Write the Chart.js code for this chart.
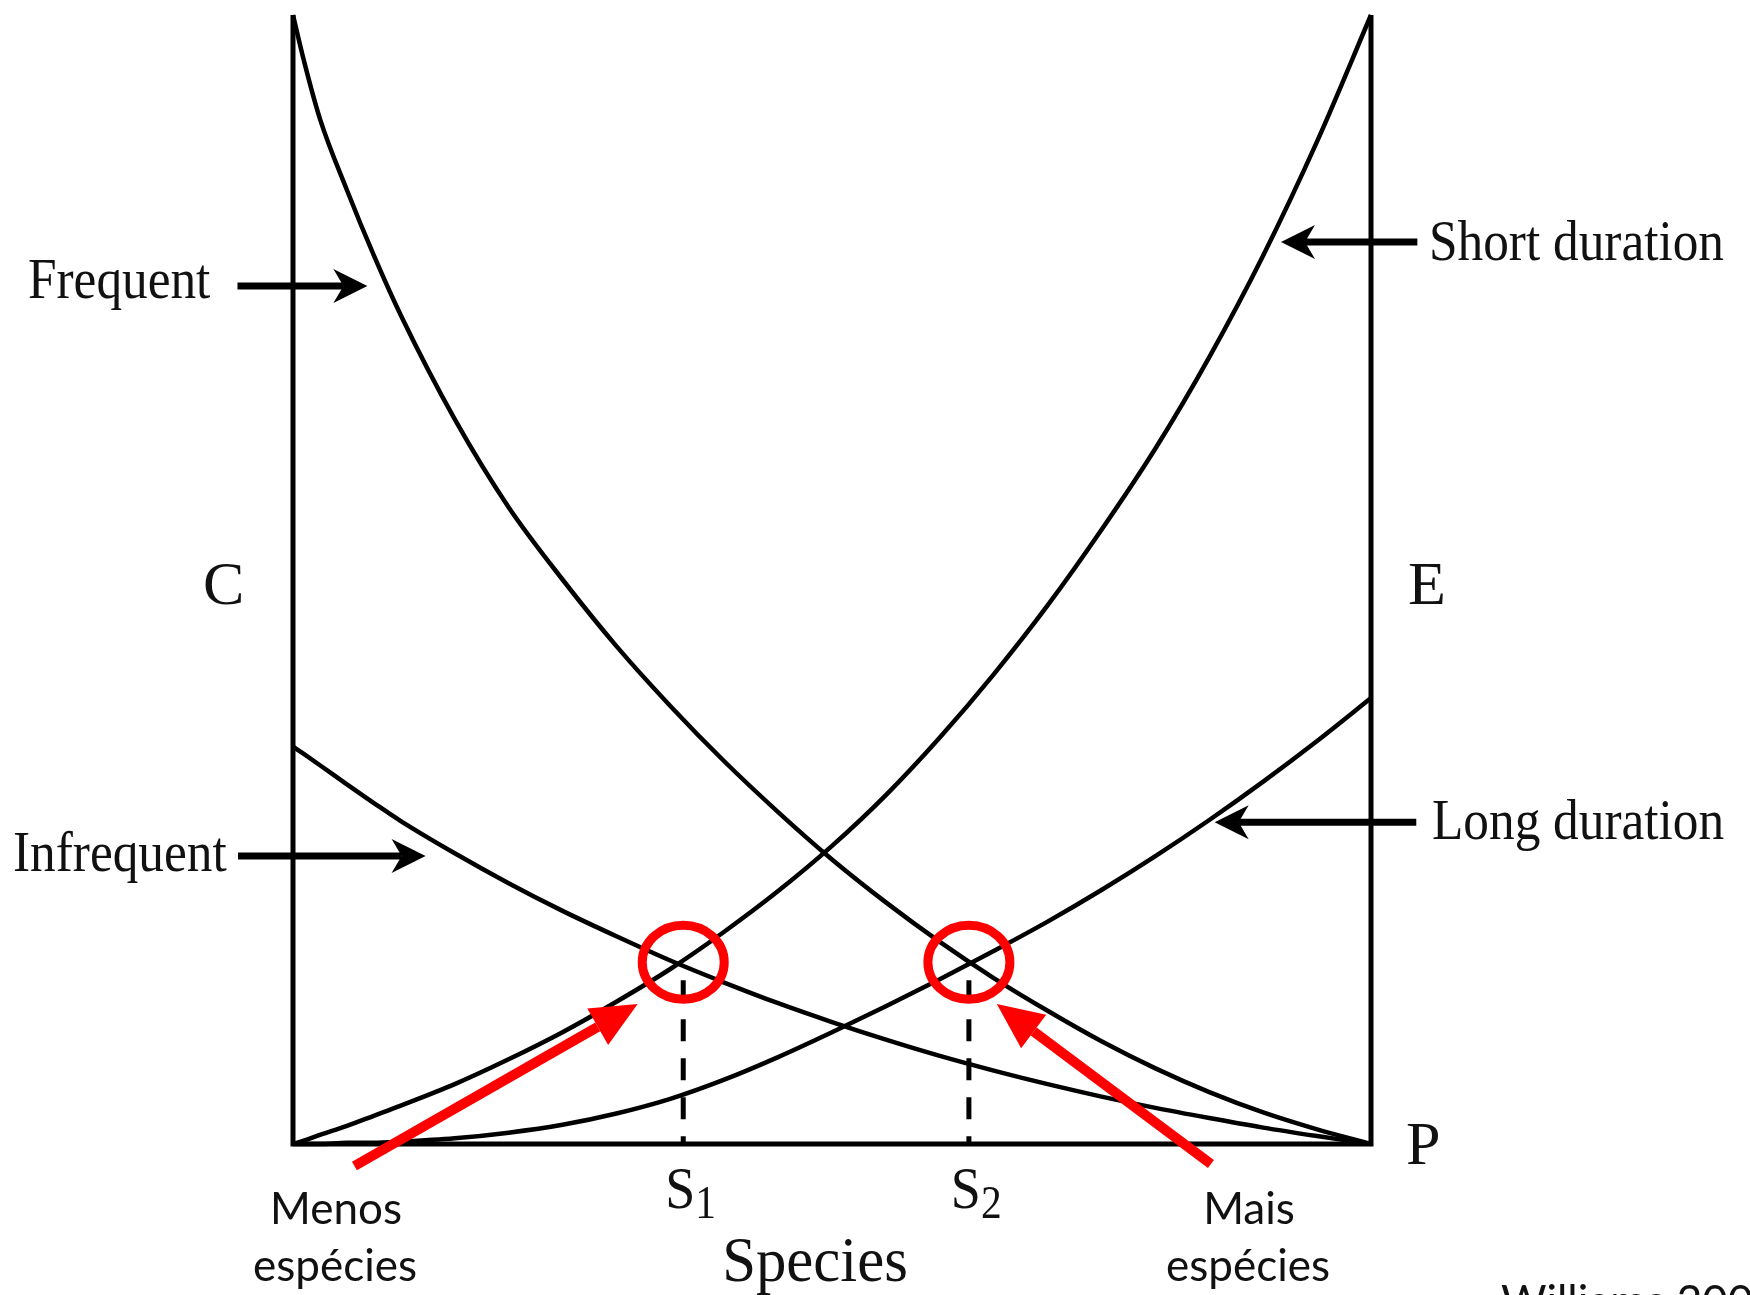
<!DOCTYPE html>
<html>
<head>
<meta charset="utf-8">
<script src="https://cdn.jsdelivr.net/npm/chart.js@4.4.0/dist/chart.umd.min.js"></script>
<style>
  body { margin: 0; background: #fff; }
  canvas { display: block; }
</style>
</head>
<body>
<canvas id="myChart" width="1750" height="1295"></canvas>
<script>
// values: position along the Species axis (0..1) and curve height (0..1)
const speciesPos = [0, 0.01, 0.025, 0.05, 0.075, 0.1, 0.15, 0.2, 0.25, 0.3, 0.35, 0.4, 0.45, 0.5, 0.55, 0.6, 0.65, 0.7, 0.75, 0.8, 0.85, 0.9, 0.95, 1];
const frequent   = [1, 0.960, 0.908, 0.845, 0.787, 0.734, 0.642, 0.564, 0.500, 0.441, 0.388, 0.339, 0.294, 0.252, 0.214, 0.179, 0.147, 0.118, 0.091, 0.067, 0.046, 0.028, 0.013, 0];
const infrequent = [0.352, 0.3455, 0.3355, 0.3185, 0.302, 0.286, 0.2575, 0.231, 0.2065, 0.184, 0.1625, 0.143, 0.1247, 0.108, 0.0924, 0.078, 0.065, 0.053, 0.042, 0.032, 0.023, 0.0145, 0.007, 0];
const shortDur   = [0, 0.003, 0.008, 0.016, 0.025, 0.034, 0.053, 0.075, 0.099, 0.126, 0.155, 0.188, 0.224, 0.264, 0.309, 0.360, 0.416, 0.477, 0.544, 0.616, 0.697, 0.787, 0.888, 1];
const longDur    = [0, 0, 0, 0.001, 0.001, 0.002, 0.005, 0.010, 0.017, 0.027, 0.040, 0.057, 0.077, 0.099, 0.122, 0.146, 0.171, 0.197, 0.225, 0.255, 0.287, 0.321, 0.357, 0.395];

// crossing points marked on the axis
const speciesMarks = [0.362, 0.627];
const markLabels = ['1', '2'];
const markTop = 0.145;
const crossY = 0.161;

function toPoints(ys) {
  return speciesPos.map((x, i) => ({ x: x, y: ys[i] }));
}

const curve = {
  showLine: true,
  borderColor: '#000',
  borderWidth: 4.5,
  pointRadius: 0,
  cubicInterpolationMode: 'monotone',
  clip: false
};

// arrows, circles and all the text
const notes = {
  id: 'notes',
  afterDatasetsDraw(chart) {
    const ctx = chart.ctx;
    const px = v => chart.scales.x.getPixelForValue(v);
    const py = v => chart.scales.y.getPixelForValue(v);

    function arrow(x1, y1, x2, y2, w, len, half, notch, color) {
      const a = Math.atan2(y2 - y1, x2 - x1);
      const c = Math.cos(a), s = Math.sin(a);
      ctx.save();
      ctx.strokeStyle = color;
      ctx.fillStyle = color;
      ctx.lineWidth = w;
      ctx.beginPath();
      ctx.moveTo(x1, y1);
      ctx.lineTo(x2 - c * (len - notch), y2 - s * (len - notch));
      ctx.stroke();
      ctx.beginPath();
      ctx.moveTo(x2, y2);
      ctx.lineTo(x2 - c * len - s * half, y2 - s * len + c * half);
      ctx.lineTo(x2 - c * (len - notch), y2 - s * (len - notch));
      ctx.lineTo(x2 - c * len + s * half, y2 - s * len - c * half);
      ctx.closePath();
      ctx.fill();
      ctx.restore();
    }

    function text(str, x, y, font, align, sx) {
      ctx.save();
      ctx.font = font;
      ctx.fillStyle = '#111';
      ctx.textBaseline = 'alphabetic';
      ctx.textAlign = align;
      ctx.translate(x, y);
      ctx.scale(sx, 1);
      ctx.fillText(str, 0, 0);
      ctx.restore();
    }

    // black pointer arrows
    arrow(px(-0.0515), py(0.760), px(0.069), py(0.760), 7, 34, 17, 10, '#000');
    arrow(px(-0.051), py(0.255), px(0.123), py(0.255), 7, 34, 17, 10, '#000');
    arrow(px(1.043), py(0.799), px(0.9165), py(0.799), 7, 34, 17, 10, '#000');
    arrow(px(1.042), py(0.285), px(0.855), py(0.285), 7, 34, 17, 10, '#000');

    // red circles on the crossings
    ctx.save();
    ctx.strokeStyle = '#ff0000';
    ctx.lineWidth = 9;
    speciesMarks.forEach(m => {
      ctx.beginPath();
      ctx.ellipse(px(m), py(crossY), 41, 37, 0, 0, Math.PI * 2);
      ctx.stroke();
    });
    ctx.restore();

    // red arrows
    arrow(px(0.057), py(-0.0195), px(0.3197), py(0.124), 10, 46, 21, 0, '#ff0000');
    arrow(px(0.8515), py(-0.0177), px(0.6529), py(0.124), 10, 46, 21, 0, '#ff0000');

    const serif = '"Liberation Serif", "Times New Roman", serif';
    const sans = 'Lato, "Open Sans", sans-serif';

    text('Frequent', 28, 298, '57px ' + serif, 'left', 0.9);
    text('Infrequent', 13, 871, '57px ' + serif, 'left', 0.9);
    text('Short duration', 1429, 260, '57px ' + serif, 'left', 0.9);
    text('Long duration', 1432, 839, '57px ' + serif, 'left', 0.9);
    text('C', 203, 604, '62px ' + serif, 'left', 1);
    text('E', 1408, 604, '62px ' + serif, 'left', 1);
    text('P', 1406, 1164, '62px ' + serif, 'left', 1);

    speciesMarks.forEach((m, i) => {
      const right = px(m) + 12;
      text('S', right, 1208, '60px ' + serif, 'right', 0.9);
      text(markLabels[i], right, 1218, '46px ' + serif, 'left', 0.9);
    });
    text('Species', 815, 1281, '64px ' + serif, 'center', 0.95);

    text('Menos', 336, 1224, '44px ' + sans, 'center', 1);
    text('espécies', 335, 1281, '44px ' + sans, 'center', 1);
    text('Mais', 1249, 1224, '44px ' + sans, 'center', 1);
    text('espécies', 1248, 1281, '44px ' + sans, 'center', 1);
    text('Williams 2002', 1501, 1317, '44px ' + sans, 'left', 1);
  }
};

const myChart = new Chart(document.getElementById('myChart'), {
  type: 'scatter',
  data: {
    datasets: [
      {
        label: 'frame',
        data: [{ x: 0, y: 1 }, { x: 0, y: 0 }, { x: 1, y: 0 }, { x: 1, y: 1 }],
        showLine: true,
        borderColor: '#000',
        borderWidth: 5,
        borderJoinStyle: 'miter',
        pointRadius: 0,
        clip: false
      },
      Object.assign({ label: 'Frequent', data: toPoints(frequent) }, curve),
      Object.assign({ label: 'Infrequent', data: toPoints(infrequent) }, curve),
      Object.assign({ label: 'Short duration', data: toPoints(shortDur) }, curve),
      Object.assign({ label: 'Long duration', data: toPoints(longDur) }, curve),
      {
        label: 'S1',
        data: [{ x: speciesMarks[0], y: markTop }, { x: speciesMarks[0], y: 0 }],
        showLine: true, borderColor: '#000', borderWidth: 5, borderDash: [22, 17], pointRadius: 0, clip: false
      },
      {
        label: 'S2',
        data: [{ x: speciesMarks[1], y: markTop }, { x: speciesMarks[1], y: 0 }],
        showLine: true, borderColor: '#000', borderWidth: 5, borderDash: [22, 17], pointRadius: 0, clip: false
      }
    ]
  },
  options: {
    responsive: false,
    devicePixelRatio: 1,
    animation: false,
    layout: { padding: { left: 293, right: 379, top: 15, bottom: 151 } },
    plugins: { legend: { display: false }, tooltip: { enabled: false } },
    scales: {
      x: { type: 'linear', min: 0, max: 1, display: false },
      y: { type: 'linear', min: 0, max: 1, display: false }
    }
  },
  plugins: [notes]
});
</script>
</body>
</html>
